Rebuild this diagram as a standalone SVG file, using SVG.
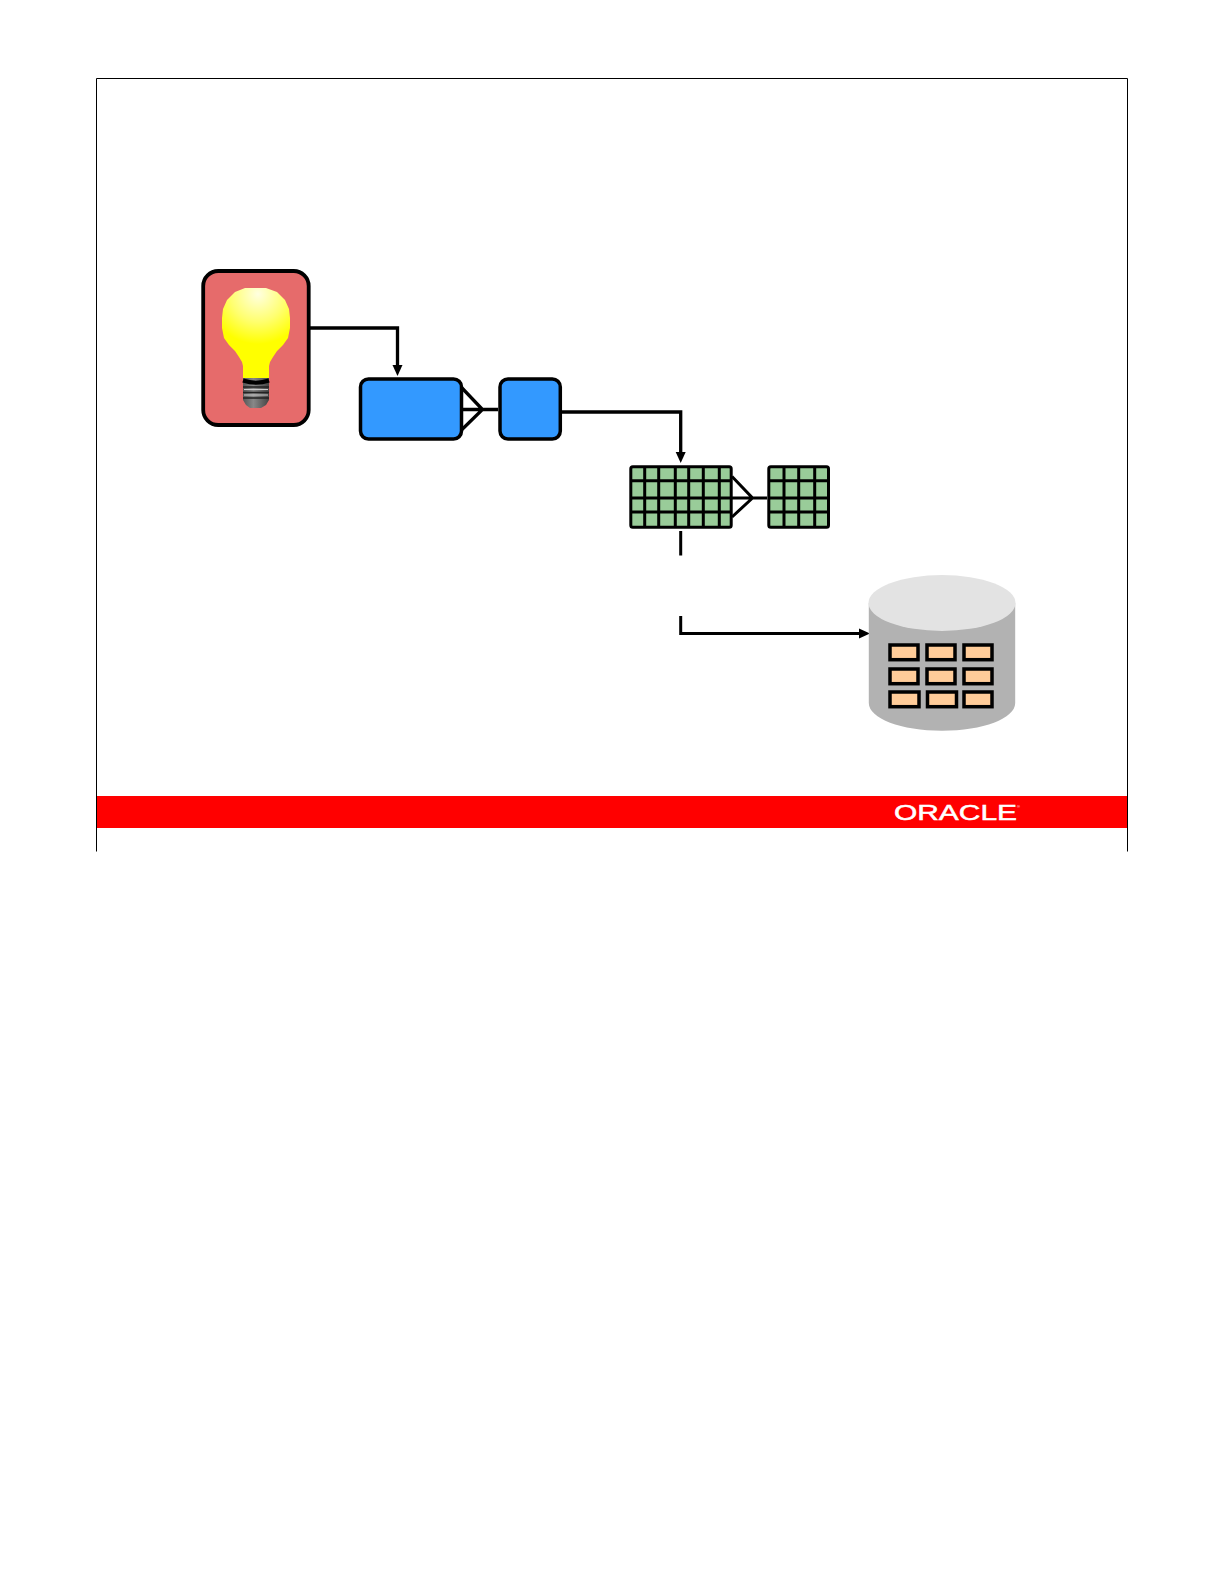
<svg xmlns="http://www.w3.org/2000/svg" width="1224" height="1584" viewBox="0 0 1224 1584">
<style>
.ln{fill:none;stroke:#000;stroke-width:3.300}
.thin{fill:none;stroke:#000;stroke-width:3}
.blue{fill:#3399FF;stroke:#000;stroke-width:3.500}
.grn{fill:#99CC99;stroke:#000;stroke-width:3}
.cell{fill:#FFCC99;stroke:#000;stroke-width:3.500}
.hd{fill:#000}
</style>
<defs>
<radialGradient id="glow" gradientUnits="userSpaceOnUse" cx="258" cy="294" r="50">
<stop offset="0" stop-color="#FFFFE0"/><stop offset=".55" stop-color="#FFFF70"/><stop offset="1" stop-color="#FFFF00"/>
</radialGradient>
<linearGradient id="screw" x1="0" y1="0" x2="1" y2="0">
<stop offset="0" stop-color="#555"/><stop offset=".4" stop-color="#888"/><stop offset="1" stop-color="#444"/>
</linearGradient>
</defs>
<rect width="1224" height="1584" fill="#fff"/>
<g id="frame">
<path d="M96.500 851.500V78.500H1127.500V851.500" fill="none" stroke="#000" stroke-width="1"/>
<rect x="97" y="796" width="1030" height="32" fill="#FF0000"/>
<text x="894" y="820" font-family="Liberation Sans, Arial, sans-serif" font-size="22" fill="#fff" stroke="#fff" stroke-width=".5" textLength="123" lengthAdjust="spacingAndGlyphs">ORACLE</text>
<text x="1017" y="808" font-family="Liberation Sans, Arial, sans-serif" font-size="4" fill="#fff">®</text>
</g>
<g id="connectors">
<path class="ln" d="M309 328H397.500V366"/>
<path class="hd" d="M392.500 365H402.500L397.500 376Z"/>
<path class="ln" d="M461 409.500H498M462 388L482.500 409.500L462 429.500"/>
<path class="ln" d="M561 412H680.700V453"/>
<path class="hd" d="M675.700 452H685.700L680.700 463Z"/>
<path class="thin" d="M732 498H767M732 476.500L752.500 498L732 517"/>
<path class="thin" d="M680.700 531V555.500M680.700 616V633.500H860"/>
<path class="hd" d="M859 628.500V638.500L870 633.500Z"/>
</g>
<g id="idea">
<rect x="203.200" y="271" width="105.500" height="154" rx="15" fill="#E66B6B" stroke="#000" stroke-width="3.800"/>
<path d="M245 288H266L277 292L285 300L289 309L290 318V328L288 338L283 345L277 351L273 357L270 362L269 366V381H243V366L242 362L239 357L235 351L229 345L224 338L222 328V318L223 309L227 300L235 292Z" fill="url(#glow)"/>
<path d="M243 378H269V400L266 405L261 408H250L246 405L243 400Z" fill="url(#screw)"/>
<path d="M243 380.500Q256 385 269 380.500" stroke="#000" stroke-width="4" fill="none"/>
<path d="M243 387H269M243 392.500H269M243 398H269" stroke="#222" stroke-width="1.500" fill="none"/>
<path d="M244 389.500H268M244 395H268" stroke="#ccc" stroke-width="1" fill="none"/>
</g>
<g id="entity-a"><rect class="blue" x="360.500" y="379" width="101" height="60" rx="8"/></g>
<g id="entity-b"><rect class="blue" x="500" y="379" width="60.300" height="60" rx="8"/></g>
<g id="table-a">
<rect class="grn" x="630.800" y="466.800" width="100.400" height="60.400" rx="2"/>
<path class="thin" d="M644.700 466V528M658.700 466V528M675.300 466V528M688.700 466V528M703.300 466V528M719.300 466V528M630 480.700H732M630 498H732M630 512H732"/>
</g>
<g id="table-b">
<rect class="grn" x="768.800" y="466.800" width="59.700" height="60.400" rx="2"/>
<path class="thin" d="M784 466V528M798.700 466V528M814.700 466V528M768 480.700H829M768 498H829M768 512H829"/>
</g>
<g id="database">
<path d="M868.800 603V703C868.800 718.500 901 730.700 942 730.700S1015.200 718.500 1015.200 703V603Z" fill="#B2B2B2"/>
<ellipse cx="942" cy="603" rx="73.500" ry="28" fill="#E3E3E3"/>
<rect class="cell" x="890" y="645" width="28" height="14.700"/>
<rect class="cell" x="927" y="645" width="28" height="14.700"/>
<rect class="cell" x="964" y="645" width="28" height="14.700"/>
<rect class="cell" x="890" y="669" width="28" height="14.700"/>
<rect class="cell" x="927" y="669" width="28" height="14.700"/>
<rect class="cell" x="964" y="669" width="28" height="14.700"/>
<rect class="cell" x="890" y="692" width="29" height="14.700"/>
<rect class="cell" x="927.500" y="692" width="29" height="14.700"/>
<rect class="cell" x="964" y="692" width="28" height="14.700"/>
</g>
</svg>
